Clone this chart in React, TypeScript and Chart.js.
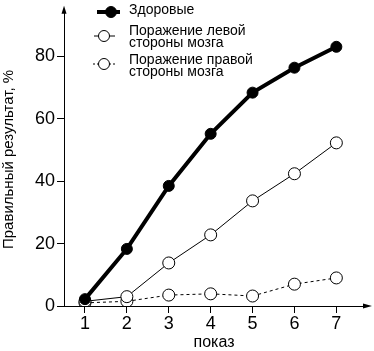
import React, { useEffect, useRef } from "react";
import { Chart, registerables } from "chart.js";

Chart.register(...registerables);

const shows = [1, 2, 3, 4, 5, 6, 7];
const healthy = [2.2, 18.3, 38.5, 55.2, 68.4, 76.4, 83.1];
const leftLesion = [1.5, 3.0, 13.8, 22.8, 33.7, 42.4, 52.3];
const rightLesion = [1.0, 1.5, 3.5, 3.9, 3.2, 7.0, 9.0];
const yTicks = [0, 20, 40, 60, 80];
const legendLabels = [["Здоровые"], ["Поражение левой", "стороны мозга"], ["Поражение правой", "стороны мозга"]];
const xTitle = "показ";
const yTitle = "Правильный результат, %";

const FONT = "'Liberation Sans', Arial, Helvetica, sans-serif";

export default function App() {
  const ref = useRef<HTMLCanvasElement>(null);
  useEffect(() => {
    if (!ref.current) return;
    const pts = (arr: number[]) => arr.map((v, i) => ({ x: shows[i], y: v }));
    const arrows = {
      id: "arrowsLegend",
      afterDraw(chart: any) {
        const ctx = chart.ctx;
        const a = chart.chartArea;
        ctx.save();
        ctx.fillStyle = "#000";
        ctx.strokeStyle = "#000";
        ctx.lineWidth = 1;
        // y arrow
        ctx.beginPath();
        ctx.moveTo(a.left, a.top - 7);
        ctx.lineTo(a.left - 2.5, a.top + 1);
        ctx.lineTo(a.left + 2.5, a.top + 1);
        ctx.closePath();
        ctx.fill();
        // x arrow
        ctx.beginPath();
        ctx.moveTo(a.right + 8, a.bottom);
        ctx.lineTo(a.right - 1, a.bottom - 2.5);
        ctx.lineTo(a.right - 1, a.bottom + 2.5);
        ctx.closePath();
        ctx.fill();
        // legend
        const rows = [
          { l0: 97, l1: 120, mx: 111, my: 12, base: 14 },
          { l0: 94, l1: 115, mx: 104, my: 36, base: 35 },
          { l0: 93, l1: 115, mx: 104, my: 64, base: 64 },
        ];
        const tx = 129;
        ctx.font = `14px ${FONT}`;
        ctx.textBaseline = "alphabetic";
        ctx.textAlign = "left";
        rows.forEach((r, i) => {
          const lines = legendLabels[i];
          ctx.beginPath();
          if (i === 0) {
            ctx.lineWidth = 4;
            ctx.setLineDash([]);
          } else if (i === 1) {
            ctx.lineWidth = 1;
            ctx.setLineDash([]);
          } else {
            ctx.lineWidth = 1;
            ctx.setLineDash([2, 2]);
          }
          ctx.moveTo(r.l0, r.my);
          ctx.lineTo(r.l1, r.my);
          ctx.stroke();
          ctx.setLineDash([]);
          ctx.beginPath();
          ctx.arc(r.mx, r.my, 5.5, 0, Math.PI * 2);
          ctx.fillStyle = i === 0 ? "#000" : "#fff";
          ctx.fill();
          ctx.lineWidth = 1;
          ctx.stroke();
          ctx.fillStyle = "#000";
          lines.forEach((t, j) => ctx.fillText(t, tx, r.base + j * 12));
        });
        ctx.restore();
      },
    };
    const chart = new Chart(ref.current, {
      type: "line",
      data: {
        datasets: [
          {
            label: "Здоровые",
            data: pts(healthy),
            borderColor: "#000",
            backgroundColor: "#000",
            borderWidth: 4,
            pointRadius: 5.5,
            pointBorderWidth: 1,
            pointBackgroundColor: "#000",
            pointBorderColor: "#000",
            order: 0,
          },
          {
            label: "Поражение левой стороны мозга",
            data: pts(leftLesion),
            borderColor: "#000",
            borderWidth: 1,
            pointRadius: 6,
            pointBorderWidth: 1,
            pointBackgroundColor: "#fff",
            pointBorderColor: "#000",
            order: 1,
          },
          {
            label: "Поражение правой стороны мозга",
            data: pts(rightLesion),
            borderColor: "#000",
            borderWidth: 1,
            borderDash: [3, 3],
            pointRadius: 6,
            pointBorderWidth: 1,
            pointBackgroundColor: "#fff",
            pointBorderColor: "#000",
            order: 2,
          },
        ],
      },
      options: {
        animation: false,
        responsive: false,
        maintainAspectRatio: false,
        layout: { padding: { top: 9, right: 10, left: 0, bottom: 0 } },
        plugins: { legend: { display: false }, tooltip: { enabled: false } },
        scales: {
          x: {
            type: "linear",
            min: 0.5,
            max: 7.66,
            afterBuildTicks: (axis: any) => {
              axis.ticks = shows.map((v) => ({ value: v }));
            },
            grid: { drawOnChartArea: false, drawTicks: true, tickLength: 7, color: "#000" },
            border: { display: true, color: "#000", width: 1 },
            ticks: { color: "#000", font: { family: FONT, size: 18, lineHeight: 1 }, padding: 2, maxRotation: 0 },
            title: { display: true, text: xTitle, color: "#000", font: { family: FONT, size: 16, lineHeight: 1 }, padding: { top: 0, bottom: 0 } },
          },
          y: {
            type: "linear",
            min: 0,
            max: 94,
            afterBuildTicks: (axis: any) => {
              axis.ticks = yTicks.map((v) => ({ value: v }));
            },
            grid: { drawOnChartArea: false, drawTicks: true, tickLength: 7, color: "#000" },
            border: { display: true, color: "#000", width: 1 },
            ticks: { color: "#000", font: { family: FONT, size: 18 }, padding: 2 },
            title: { display: true, text: yTitle, color: "#000", font: { family: FONT, size: 15 }, padding: { top: 0, bottom: 15 } },
          },
        },
      },
      plugins: [arrows],
    } as any);
    return () => chart.destroy();
  }, []);
  return (
    <div style={{ position: "fixed", left: 0, top: 0, width: 374, height: 351, background: "#fff" }}>
      <canvas ref={ref} width={374} height={351} style={{ width: 374, height: 351 }} />
    </div>
  );
}
